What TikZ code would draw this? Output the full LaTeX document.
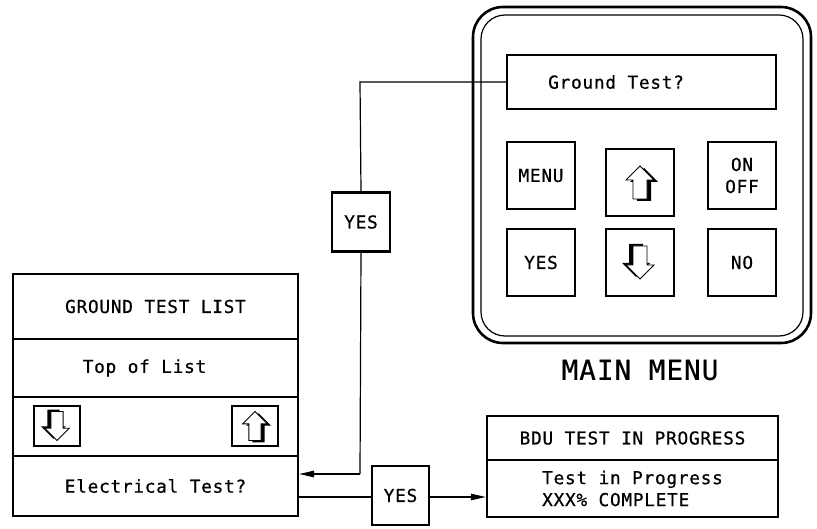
\documentclass[tikz,border=0pt]{standalone}
\usepackage{fontspec}
\newfontfamily\mono{DejaVu Sans Mono}[LetterSpace=4,FakeBold=0.6]
\usetikzlibrary{arrows.meta}
\begin{document}
\begin{tikzpicture}[x=1pt,y=-1pt,
  every node/.style={font={\mono\fontsize{17.8}{22}\selectfont}, inner sep=0pt},
  btn/.style={draw, line width=1.2pt, minimum width=68pt, minimum height=67pt},
  row/.style={draw, line width=2.4pt, minimum width=285pt},
  smallbox/.style={draw, line width=1.2pt, minimum width=46pt, minimum height=40pt},
  yesbox/.style={draw, line width=2.4pt, minimum width=58pt, minimum height=59pt},
  conn/.style={line width=1.2pt},
  tip/.style={-{Triangle[length=15pt,width=6.5pt]}},
  pics/arrthreed/.style={code={
    \begin{scope}[shift={(4,2)}]
      \fill (0,-16.5) -- (14,-2.5) -- (7,-2.5) -- (7,16.5) -- (-7,16.5) -- (-7,-2.5) -- (-14,-2.5) -- cycle;
    \end{scope}
    \filldraw[fill=white, line width=0.9pt] (0,-16.5) -- (14,-2.5) -- (7,-2.5) -- (7,16.5) -- (-7,16.5) -- (-7,-2.5) -- (-14,-2.5) -- cycle;
  }}]
\useasboundingbox (0,0) rectangle (817,529);

% main device
\draw[line width=2.6pt, rounded corners=30pt] (473,7) rectangle (811,343);
\draw[line width=1.2pt, rounded corners=24pt] (481,15) rectangle (803,336);
\node[draw, line width=1.3pt, minimum width=269pt, minimum height=54pt] (disp) at (641.5,82) {};
\node[anchor=west] (disptxt) at (548,82) {Ground Test?};
\node[btn] (menu) at (541,175.5) {MENU};
\node[btn] (upbtn) at (640,182.5) {};
\pic at (upbtn.center) {arrthreed};
\node[btn, align=center] (onoff) at (742,175.5) {ON\\OFF};
\node[btn] (yesbtn) at (541,262.5) {YES};
\node[btn] (downbtn) at (640,262.5) {};
\pic[rotate=180] at (downbtn.center) {arrthreed};
\node[btn] (nobtn) at (742,262.5) {NO};
\node[font={\mono\fontsize{27.5}{30}\selectfont}] (mainmenu) at (640,370) {MAIN MENU};

% ground test list
\node[row, minimum height=65pt] (title) at (155.5,306.5) {GROUND TEST LIST};
\node[row, minimum height=58pt] (topl) at (155.5,368) {};
\node (topltxt) at (144.5,368) {Top of List};
\node[row, minimum height=59pt] (arrrow) at (155.5,426.5) {};
\node[smallbox] (ldown) at (57,426) {};
\pic[rotate=180, scale=0.88] at (ldown.center) {arrthreed};
\node[smallbox] (lup) at (255,426) {};
\pic[scale=0.88] at (lup.center) {arrthreed};
\node[row, minimum height=60pt] (elec) at (155.5,486) {Electrical Test?};

% yes boxes
\node[yesbox] (yesa) at (361,222) {YES};
\node[yesbox, minimum width=57pt] (yesb) at (400.5,495.5) {YES};

% BDU box
\node[draw, line width=2.4pt, minimum width=291pt, minimum height=44pt] (bdut) at (632.5,438) {BDU TEST IN PROGRESS};
\node[draw, line width=2.4pt, minimum width=291pt, minimum height=57pt, align=left] (bdub) at (632.5,488.5) {Test in Progress\\XXX\% COMPLETE};

% connectors
\coordinate (ca) at (360,82);
\coordinate (cb) at (360,474);
\coordinate (cc) at (298,497);
\draw[conn] (disp.west) -- (ca) -- (yesa.north);
\draw[conn] (yesa.south) -- (cb);
\draw[conn, tip] (cb) -- (cb -| elec.east);
\draw[conn] (cc -| elec.east) -- (yesb.west |- cc);
\draw[conn, tip] (yesb.east |- cc) -- (bdub.west |- cc);
\end{tikzpicture}
\end{document}
